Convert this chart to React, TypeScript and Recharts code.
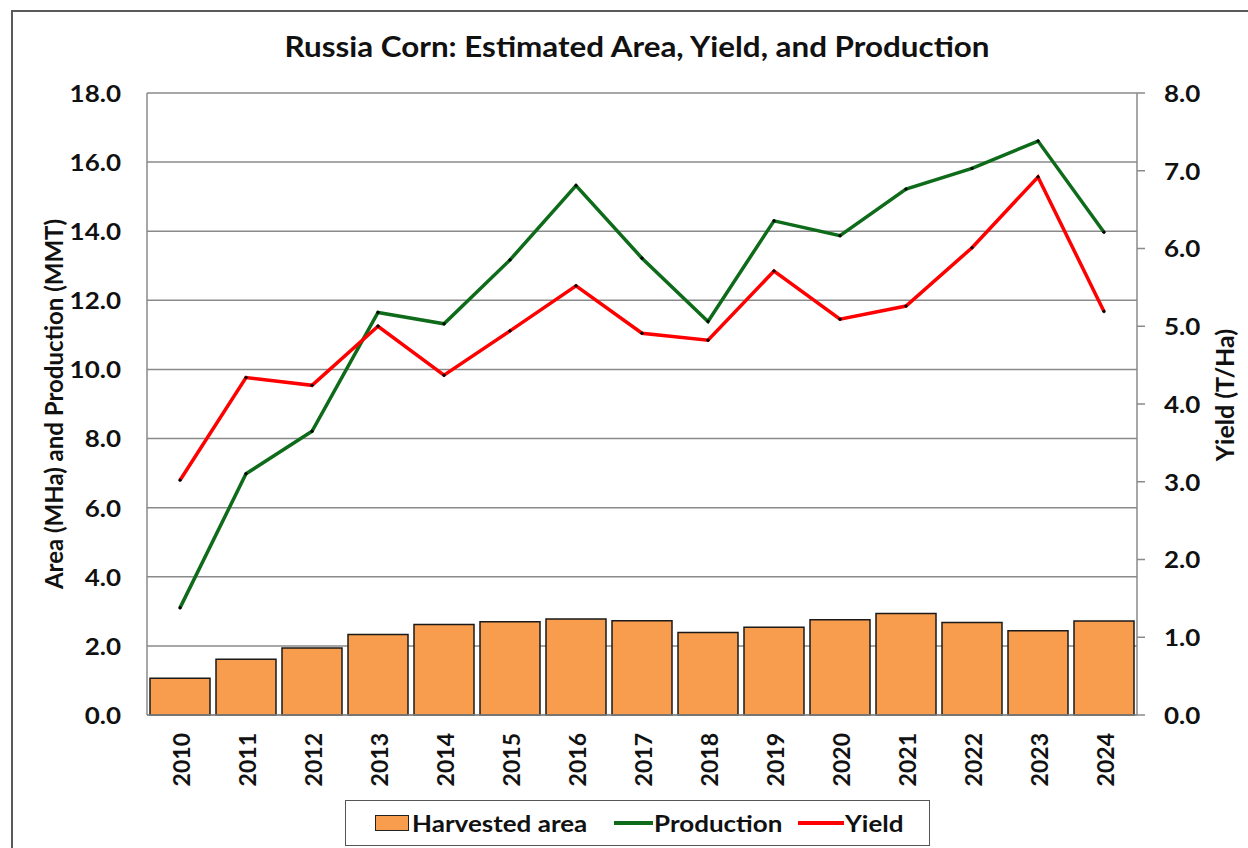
import React from 'react';
import { ComposedChart, Bar, Line, XAxis, YAxis, CartesianGrid } from 'recharts';

const years = ['2010','2011','2012','2013','2014','2015','2016','2017','2018','2019','2020','2021','2022','2023','2024'];
const harvestedArea = [1.06, 1.61, 1.94, 2.33, 2.62, 2.70, 2.78, 2.73, 2.39, 2.54, 2.76, 2.94, 2.68, 2.44, 2.72];
const production = [3.10, 6.98, 8.21, 11.65, 11.32, 13.17, 15.32, 13.22, 11.39, 14.30, 13.87, 15.22, 15.82, 16.61, 13.97];
const yieldValues = [3.02, 4.34, 4.24, 5.00, 4.37, 4.94, 5.52, 4.91, 4.82, 5.71, 5.09, 5.26, 6.01, 6.92, 5.19];
const leftTicks = [0, 2, 4, 6, 8, 10, 12, 14, 16, 18];
const rightTicks = [0, 1, 2, 3, 4, 5, 6, 7, 8];

const data = years.map((y, i) => ({
  year: y,
  area: harvestedArea[i],
  production: production[i],
  yield: yieldValues[i],
}));

const FONT = 'Lato, "Open Sans", sans-serif';
const GREEN = '#0E6B1A';
const RED = '#FF0000';
const ORANGE = '#F89C4E';
const GRID = '#8a8a8a';
const STRETCH = 1.13;

const XTick = (props: any) => {
  const { x, y, payload } = props;
  return (
    <text
      transform={`translate(${x + 1},${y + 10}) rotate(-90)`}
      textAnchor="end"
      dominantBaseline="central"
      fontFamily={FONT}
      fontWeight={700}
      fontSize={23}
      fill="#111"
    >
      {payload.value}
    </text>
  );
};

const YTick = (props: any) => {
  const { x, y, payload, textAnchor } = props;
  return (
    <text
      transform={`translate(${x},${y}) scale(${STRETCH},1)`}
      textAnchor={textAnchor}
      dominantBaseline="central"
      fontFamily={FONT}
      fontWeight={700}
      fontSize={23}
      fill="#111"
    >
      {Number(payload.value).toFixed(1)}
    </text>
  );
};

const LeftTitle = (props: any) => {
  const vb = props.viewBox || {};
  const cx = (vb.x ?? 67) - 14;
  const cy = (vb.y ?? 93) + (vb.height ?? 622) / 2;
  return (
    <text
      transform={`translate(${cx},${cy}) rotate(-90)`}
      textAnchor="middle"
      dominantBaseline="central"
      fontFamily={FONT}
      fontWeight={700}
      fontSize={24}
      fill="#111"
    >
      Area (MHa) and Production (MMT)
    </text>
  );
};

const RightTitle = (props: any) => {
  const vb = props.viewBox || {};
  const cx = (vb.x ?? 1137) + 87;
  const cy = (vb.y ?? 93) + (vb.height ?? 622) / 2 - 9;
  return (
    <text
      transform={`translate(${cx},${cy}) rotate(-90)`}
      textAnchor="middle"
      dominantBaseline="central"
      fontFamily={FONT}
      fontWeight={700}
      fontSize={25}
      fill="#111"
    >
      Yield (T/Ha)
    </text>
  );
};

const legendText: React.CSSProperties = {
  position: 'absolute',
  top: 0,
  height: 44,
  lineHeight: '44px',
  fontFamily: FONT,
  fontWeight: 700,
  fontSize: 23,
  color: '#111',
  whiteSpace: 'nowrap',
  transform: `scaleX(${STRETCH})`,
  transformOrigin: 'left center',
};

export default function App() {
  return (
    <div style={{ position: 'absolute', left: 0, top: 0, width: 1248, height: 848, overflow: 'hidden', background: '#fff' }}>
      <div style={{ position: 'absolute', left: 11, top: 10, width: 1260, height: 860, border: '2px solid #5a5a5a', boxSizing: 'border-box' }} />
      <div
        style={{
          position: 'absolute',
          left: 0,
          width: 1274,
          top: 27,
          textAlign: 'center',
          fontFamily: FONT,
          fontWeight: 700,
          fontSize: 28,
          color: '#111',
          lineHeight: '38px',
          transform: 'scaleX(1.12)',
          transformOrigin: '637px 50%',
        }}
      >
        Russia Corn: Estimated Area, Yield, and Production
      </div>
      <div style={{ position: 'absolute', left: 0, top: 0 }}>
        <ComposedChart
          width={1248}
          height={848}
          data={data}
          margin={{ top: 93, right: 31, left: 67, bottom: 53 }}
        >
          <CartesianGrid yAxisId="left" vertical={false} horizontal={true} stroke={GRID} strokeWidth={1.5} />
          <XAxis
            dataKey="year"
            tick={<XTick />}
            tickLine={false}
            axisLine={{ stroke: GRID, strokeWidth: 1.5 }}
            height={80}
            interval={0}
          />
          <YAxis
            yAxisId="left"
            orientation="left"
            domain={[0, 18]}
            ticks={leftTicks}
            tick={<YTick />}
            tickLine={false}
            tickMargin={20}
            axisLine={{ stroke: GRID, strokeWidth: 1.5 }}
            width={80}
            interval={0}
            label={<LeftTitle />}
          />
          <YAxis
            yAxisId="right"
            orientation="right"
            domain={[0, 8]}
            ticks={rightTicks}
            tick={<YTick />}
            tickLine={{ stroke: GRID, strokeWidth: 1.5 }}
            tickSize={8}
            tickMargin={19}
            axisLine={{ stroke: GRID, strokeWidth: 1.5 }}
            width={80}
            interval={0}
            label={<RightTitle />}
          />
          <Bar
            yAxisId="left"
            dataKey="area"
            name="Harvested area"
            fill={ORANGE}
            stroke="#1a1a1a"
            strokeWidth={1.5}
            barSize={60}
            isAnimationActive={false}
          />
          <Line
            yAxisId="left"
            type="linear"
            dataKey="production"
            name="Production"
            stroke={GREEN}
            strokeWidth={3.5}
            dot={{ r: 1.4, fill: '#000', stroke: '#000', strokeWidth: 0.5 }}
            activeDot={false}
            isAnimationActive={false}
          />
          <Line
            yAxisId="right"
            type="linear"
            dataKey="yield"
            name="Yield"
            stroke={RED}
            strokeWidth={3.5}
            dot={{ r: 1.4, fill: '#000', stroke: '#000', strokeWidth: 0.5 }}
            activeDot={false}
            isAnimationActive={false}
          />
        </ComposedChart>
      </div>
      <div
        style={{
          position: 'absolute',
          left: 345,
          top: 800,
          width: 585,
          height: 46,
          border: '1.5px solid #555',
          boxSizing: 'border-box',
          background: '#fff',
        }}
      >
        <div style={{ position: 'absolute', left: 29, top: 14, width: 34, height: 16, background: ORANGE, border: '1.5px solid #222', boxSizing: 'border-box' }} />
        <div style={{ ...legendText, left: 66 }}>Harvested area</div>
        <div style={{ position: 'absolute', left: 268, top: 20, width: 39, height: 4, background: GREEN }} />
        <div style={{ ...legendText, left: 308 }}>Production</div>
        <div style={{ position: 'absolute', left: 452, top: 20, width: 46, height: 4, background: RED }} />
        <div style={{ ...legendText, left: 499 }}>Yield</div>
      </div>
    </div>
  );
}
